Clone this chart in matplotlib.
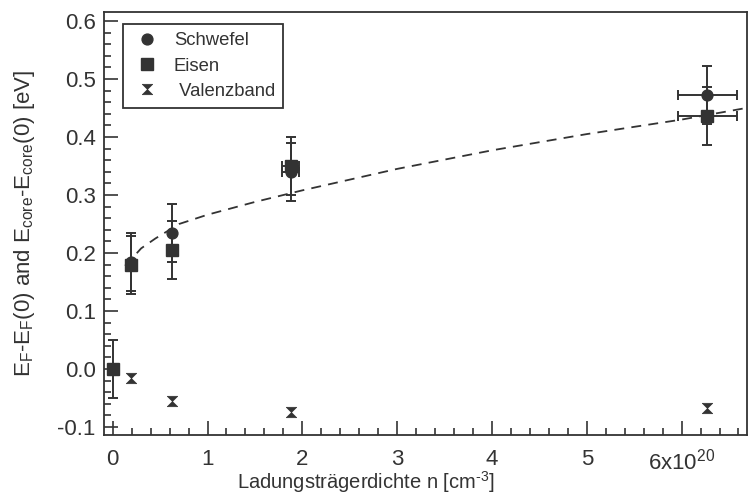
import matplotlib
matplotlib.use("Agg")
import matplotlib.pyplot as plt
from matplotlib.path import Path
from matplotlib.lines import Line2D
from matplotlib.ticker import MultipleLocator, FixedLocator

# ---- data ----
schwefel_x = [0.19, 0.63, 1.88, 6.27]
schwefel_y = [0.185, 0.234, 0.34, 0.472]
schwefel_yerr = [0.05, 0.05, 0.05, 0.05]
schwefel_xerr = [0.0, 0.0, 0.09, 0.31]

eisen_x = [0.0, 0.19, 0.63, 1.88, 6.27]
eisen_y = [0.0, 0.18, 0.206, 0.35, 0.436]
eisen_yerr = [0.05, 0.05, 0.05, 0.05, 0.05]
eisen_xerr = [0.0, 0.0, 0.0, 0.09, 0.31]

valenz_x = [0.19, 0.63, 1.88, 6.27]
valenz_y = [-0.015, -0.056, -0.075, -0.068]

fit_x = [0.13, 0.2, 0.3, 0.45, 0.7, 1.0, 1.5, 2.0, 3.0, 4.0, 5.0, 6.0, 6.75]
fit_y = [0.178, 0.19, 0.208, 0.225, 0.25, 0.266, 0.288, 0.308, 0.345, 0.377, 0.405, 0.43, 0.452]

xtick_vals = [0, 1, 2, 3, 4, 5, 6]
xtick_labels = ["0", "1", "2", "3", "4", "5", r"6x10$^{20}$"]
ytick_vals = [-0.1, 0.0, 0.1, 0.2, 0.3, 0.4, 0.5, 0.6]
ytick_labels = ["-0.1", "0.0", "0.1", "0.2", "0.3", "0.4", "0.5", "0.6"]

labels = ["Schwefel", "Eisen", " Valenzband"]
xlabel = r"Ladungsträgerdichte n [cm$^{\text{-}3}$]"
ylabel = r"E$_{F}$-E$_{F}$(0) and E$_{core}$-E$_{core}$(0) [eV]"

# ---- style ----
plt.rcParams["font.family"] = ["Liberation Sans", "DejaVu Sans"]
plt.rcParams["mathtext.fontset"] = "custom"
plt.rcParams["mathtext.rm"] = "Liberation Sans"
plt.rcParams["mathtext.it"] = "Liberation Sans"
plt.rcParams["mathtext.default"] = "regular"

C = "#333333"
W = 749 / 100
H = 501 / 100
fig = plt.figure(figsize=(W, H), dpi=100)
ax = fig.add_axes([104 / 749, 1 - 435 / 501, (747 - 104) / 749, (435 - 12) / 501])

hourglass = Path(
    [(-1, 1), (1, 1), (0, 0), (-1, 1), (-1, -1), (1, -1), (0, 0), (-1, -1)],
    [Path.MOVETO, Path.LINETO, Path.LINETO, Path.CLOSEPOLY,
     Path.MOVETO, Path.LINETO, Path.LINETO, Path.CLOSEPOLY],
)

ax.plot(fit_x, fit_y, color=C, lw=1.3, dashes=(5.5, 4), zorder=2)

eb_kw = dict(fmt="none", ecolor=C, elinewidth=1.4, capsize=3.8, capthick=1.4, zorder=3)
ax.errorbar(schwefel_x, schwefel_y, yerr=schwefel_yerr, xerr=schwefel_xerr, **eb_kw)
ax.errorbar(eisen_x, eisen_y, yerr=eisen_yerr, xerr=eisen_xerr, **eb_kw)

ax.plot(schwefel_x, schwefel_y, "o", color=C, ms=7.8, mec=C, zorder=4)
ax.plot(eisen_x, eisen_y, "s", color=C, ms=8.0, mec=C, zorder=5)
ax.plot(valenz_x, valenz_y, marker=hourglass, ls="none", color=C, ms=7.5, mec=C, mew=0.5, zorder=5)

ax.set_xlim(-0.092, 6.69)
ax.set_ylim(-0.1138, 0.6155)

ax.xaxis.set_major_locator(FixedLocator(xtick_vals))
ax.set_xticklabels(xtick_labels)
ax.xaxis.set_minor_locator(MultipleLocator(0.2))
ax.yaxis.set_major_locator(FixedLocator(ytick_vals))
ax.set_yticklabels(ytick_labels)
ax.yaxis.set_minor_locator(MultipleLocator(0.02))

ax.tick_params(which="both", direction="in", color=C, width=1.2,
               top=False, right=False, labelcolor=C)
ax.tick_params(which="major", length=10)
ax.tick_params(which="minor", length=5)
ax.tick_params(axis="x", which="major", labelsize=16, pad=10)
ax.tick_params(axis="y", which="major", labelsize=16, pad=6)

for s in ax.spines.values():
    s.set_color(C)
    s.set_linewidth(1.3)

ax.set_xlabel(xlabel, fontsize=14.5, color=C, labelpad=0)
ax.xaxis.label.set_verticalalignment("center")
ax.xaxis.set_label_coords((366 - 104) / (747 - 104), -(482 - 435) / (435 - 12))

ax.set_ylabel(ylabel, fontsize=16, color=C)
ax.yaxis.set_label_coords(-(104 - 25) / (747 - 104), 0.5)
ax.yaxis.label.set_verticalalignment("center")

handles = [
    Line2D([], [], marker="o", ls="none", color=C, ms=7.8),
    Line2D([], [], marker="s", ls="none", color=C, ms=8.0),
    Line2D([], [], marker=hourglass, ls="none", color=C, ms=7.5, mew=0.5),
]
leg = ax.legend(handles, labels, loc="upper left",
                bbox_to_anchor=((123 - 104) / 643, 1 - (24 - 12) / 423),
                fontsize=13.3, frameon=True, fancybox=False, framealpha=1,
                edgecolor=C, borderpad=0.45, handletextpad=0.6, labelspacing=0.45,
                borderaxespad=0, handlelength=1.7)
leg.get_frame().set_linewidth(1.3)
for t in leg.get_texts():
    t.set_color(C)

fig.savefig("out.png", dpi=100)
